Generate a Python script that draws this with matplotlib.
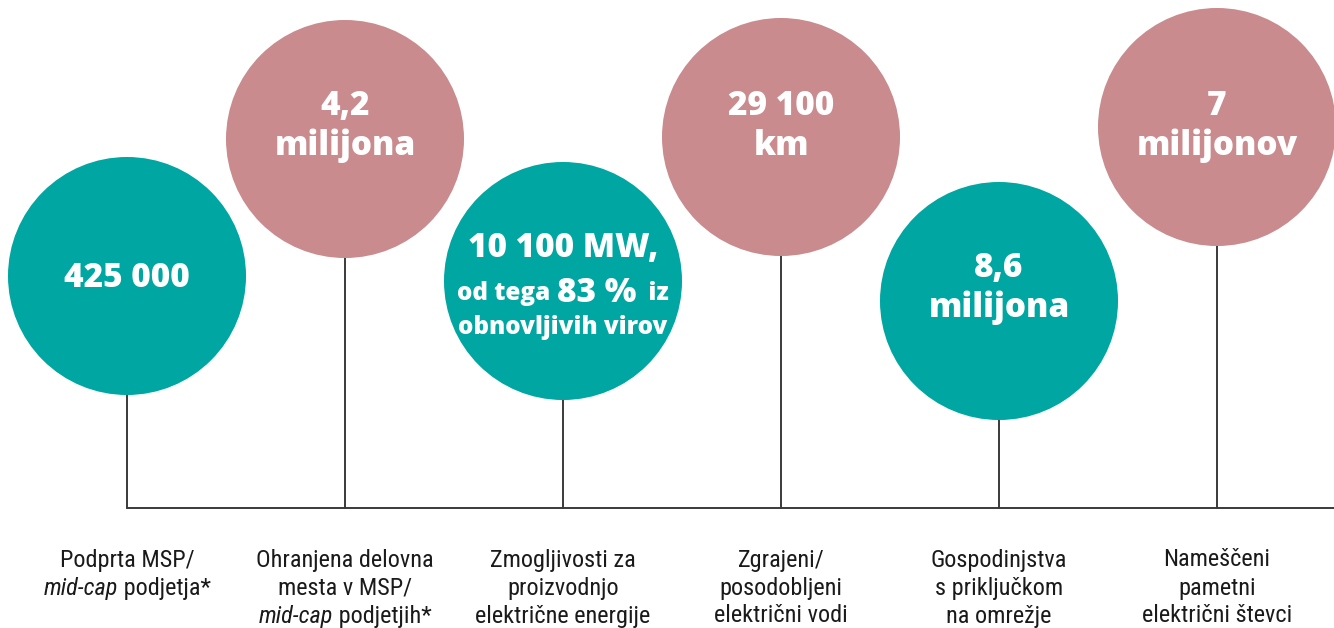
import matplotlib
matplotlib.use("Agg")
from matplotlib import pyplot as plt
from matplotlib.patches import Circle

# --- data -------------------------------------------------------------
values = [
    "425 000",
    "4,2\nmilijona",
    "10 100 MW,\nod tega |83 %|  iz\nobnovljivih virov",
    "29 100\nkm",
    "8,6\nmilijona",
    "7\nmilijonov",
]
labels = [
    "Podprta MSP/\n_mid-cap_ podjetja*",
    "Ohranjena delovna\nmesta v MSP/\n_mid-cap_ podjetjih*",
    "Zmogljivosti za\nproizvodnjo\nelektrične energije",
    "Zgrajeni/\nposodobljeni\nelektrični vodi",
    "Gospodinjstva\ns priključkom\nna omrežje",
    "Nameščeni\npametni\nelektrični števci",
]
groups = ["a", "b", "a", "b", "a", "b"]

# --- layout -------------------------------------------------------------
W, H = 1334, 628
X0, DX = 127, 218
BASE_Y = 508
RADIUS = 119
CENTER_Y = [276, 139, 281, 137, 301, 127]
TEXT_Y = [278, 106, 248, 106, 268, 106]   # first text row inside each circle
COLORS = {"a": "#00A6A1", "b": "#C98B8D"}
LINE_COLOR = "#3a3a3a"
BOLD = ["Open Sans", "DejaVu Sans"]
NARROW = ["Roboto Condensed", "Liberation Sans Narrow", "DejaVu Sans Condensed", "Roboto", "DejaVu Sans"]

fig = plt.figure(figsize=(W / 100, H / 100), dpi=100)
ax = fig.add_axes([0, 0, 1, 1])
ax.set_xlim(0, W)
ax.set_ylim(H, 0)
ax.axis("off")
renderer = fig.canvas.get_renderer()


def rich_line(x, y, parts):
    """Draw text pieces with their own style side by side, centred on x."""
    items = [ax.text(0, y, txt, ha="left", va="center", **kw) for txt, kw in parts]
    widths = [t.get_window_extent(renderer).width for t in items]
    left = x - sum(widths) / 2
    for t, w in zip(items, widths):
        t.set_x(left)
        left += w


xs = [X0 + DX * i for i in range(len(values))]

# baseline + stems
ax.plot([xs[0], W], [BASE_Y, BASE_Y], color=LINE_COLOR, lw=1.4, solid_capstyle="butt")
for x, cy in zip(xs, CENTER_Y):
    ax.plot([x, x], [cy + RADIUS, BASE_Y], color=LINE_COLOR, lw=1.4)

big = dict(color="white", fontweight="heavy", family=BOLD, fontsize=24, zorder=4)
small = dict(color="white", fontweight="heavy", family=BOLD, fontsize=17.5, zorder=4)

for x, cy, ty, val, grp in zip(xs, CENTER_Y, TEXT_Y, values, groups):
    ax.add_patch(Circle((x, cy), RADIUS, color=COLORS[grp], lw=0, zorder=3))
    rows = val.split("\n")
    if "|" in val:
        # mixed sizes inside the third circle
        rich_line(x, ty, [(rows[0], big)])
        a, b, c = rows[1].split("|")
        rich_line(x, ty + 45, [(a, small), (b, big), (c, small)])
        rich_line(x, ty + 80, [(rows[2], small)])
        continue
    for k, r in enumerate(rows):
        ax.text(x, ty + k * 40, r, ha="center", va="center", **big)

# labels below the line
lab_kw = dict(family=NARROW, fontsize=17.5, color="#1a1a1a")
for x, lab in zip(xs, labels):
    for k, row in enumerate(lab.split("\n")):
        y = 560 + k * 28
        if "_" in row:
            _, it, rest = row.split("_")
            rich_line(x, y, [(it, dict(lab_kw, style="italic")), (rest, lab_kw)])
        else:
            ax.text(x, y, row, ha="center", va="center", **lab_kw)

fig.savefig("out.png", dpi=100)
